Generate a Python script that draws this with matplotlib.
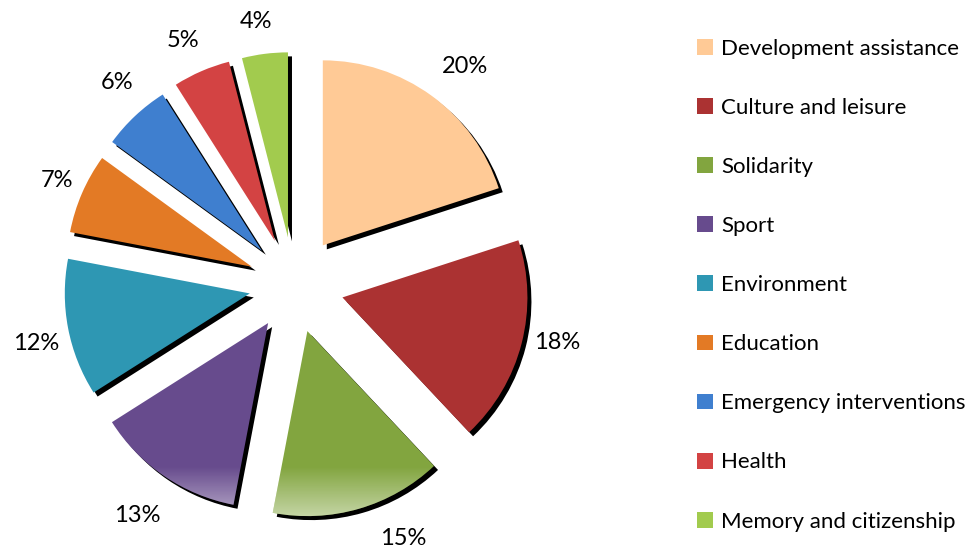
import numpy as np
import matplotlib.pyplot as plt

# Data
categories = ["Development assistance", "Culture and leisure", "Solidarity", "Sport",
              "Environment", "Education", "Emergency interventions", "Health",
              "Memory and citizenship"]
shares = [20, 18, 15, 13, 12, 7, 6, 5, 4]
colors = ["#FFCA96", "#AB3232", "#82A53F", "#674B8D", "#2E97B3",
          "#E37A25", "#3F7FCF", "#D34343", "#A2CB4E"]

# label placement (distance from pie centre in px, angular shift in degrees clockwise)
label_dist = [277, 269, 276, 279, 264, 259, 269, 268, 266]
label_shift = [2, -2, -7, 0, -2, 0.5, 2, -1, -1]

plt.rcParams['font.family'] = ['Lato', 'DejaVu Sans']

fig = plt.figure(figsize=(9.74, 5.51), dpi=100)
ax = fig.add_axes([0, 0, 1, 1])

cx, cy, r = 294, 266, 185
# explode offset in pie is in data units (pixels here)
explode = [49, 50, 48, 46, 45, 46, 47, 48, 48]

# Shadow: same pie in black, shifted right and down
ax.pie(shares, colors=["black"] * len(shares), center=(cx + 4, cy - 4), radius=r,
       explode=explode, startangle=90, counterclock=False, frame=True)

wedges, texts = ax.pie(shares, colors=colors, center=(cx, cy), radius=r,
                       explode=explode, startangle=90, counterclock=False, frame=True)

# percentage labels outside the slices
total = sum(shares)
for w, v, d, s in zip(wedges, shares, label_dist, label_shift):
    mid = np.deg2rad((w.theta1 + w.theta2) / 2 - s)
    ax.text(cx + d * np.cos(mid), cy + d * np.sin(mid), f"{100 * v / total:.0f}%",
            ha='center', va='center', fontsize=17)

# light gradient at the bottom of the pie
grad = np.zeros((60, 2, 4))
grad[..., :3] = 1.0
grad[..., 3] = np.linspace(0.6, 0.0, 60)[:, None]
for w in wedges:
    im = ax.imshow(grad, extent=(0, 974, 28, 85), origin='lower', aspect='auto',
                   interpolation='bilinear', zorder=w.get_zorder() + 0.1)
    im.set_clip_path(w)

ax.set_xlim(0, 974)
ax.set_ylim(0, 551)
ax.set_aspect('equal')
ax.axis('off')

ax.legend(wedges, categories, loc='upper left', bbox_to_anchor=(0.706, 0.946),
          frameon=False, fontsize=16, handlelength=0.72, handleheight=0.72,
          handletextpad=0.4, labelspacing=1.76, borderaxespad=0)

fig.savefig("out.png", dpi=100)
